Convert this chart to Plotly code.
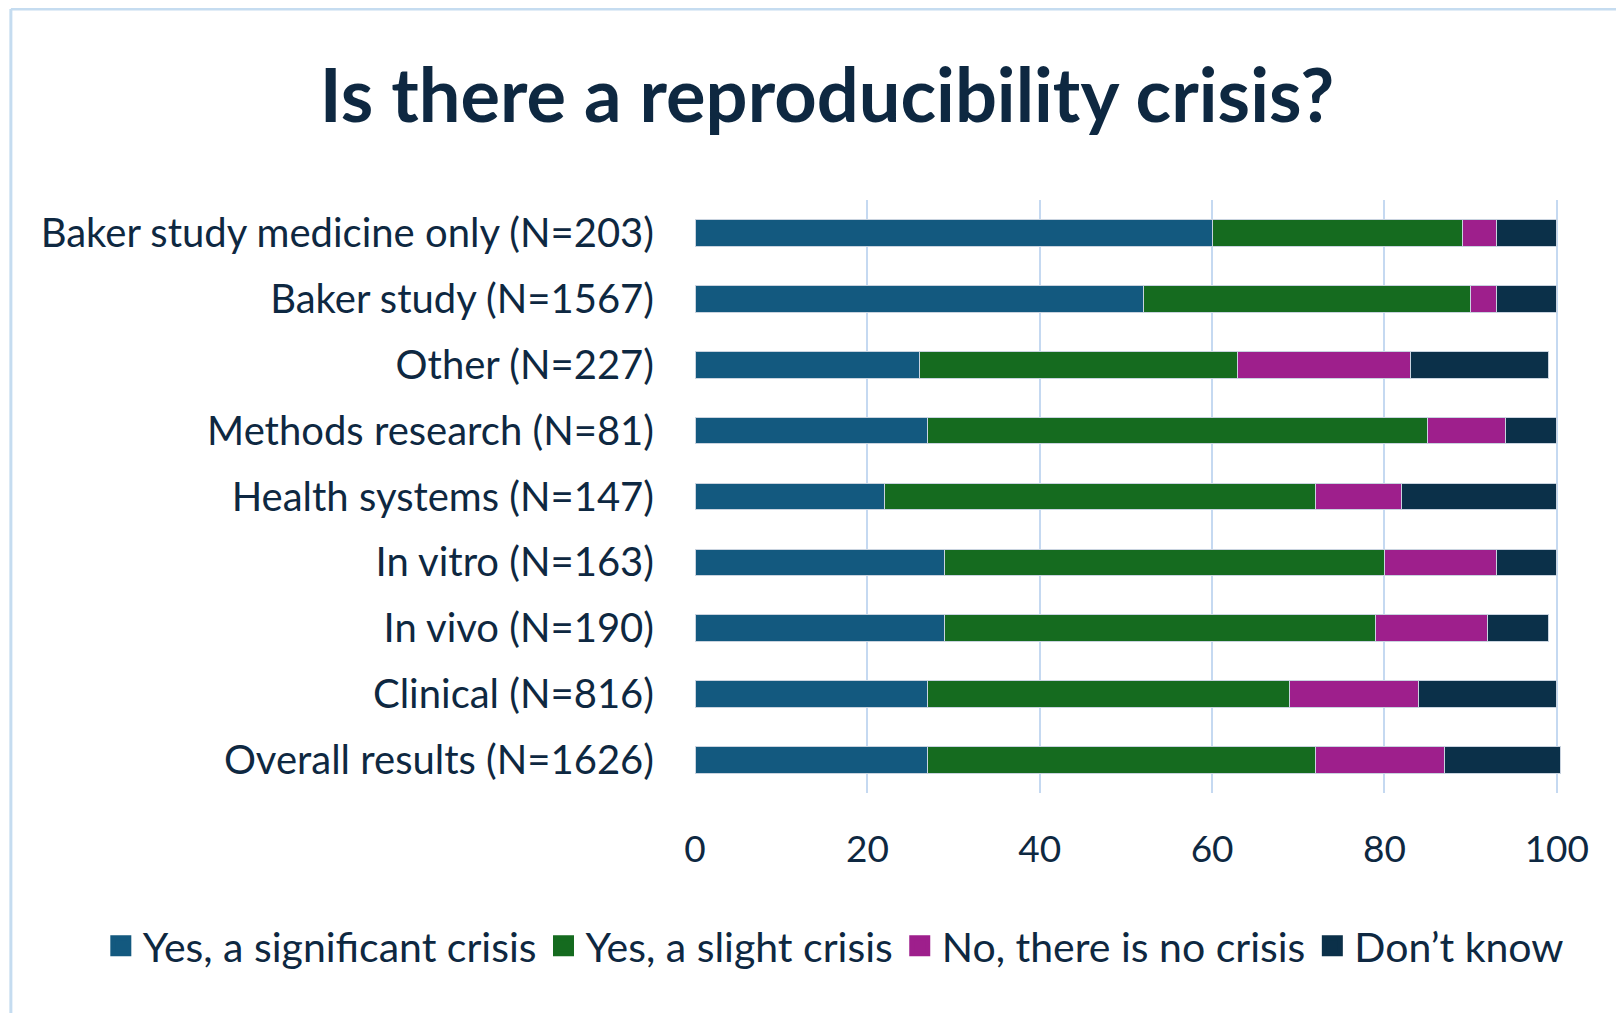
import plotly.graph_objects as go

categories = [
    "Baker study medicine only (N=203)",
    "Baker study (N=1567)",
    "Other (N=227)",
    "Methods research (N=81)",
    "Health systems (N=147)",
    "In vitro (N=163)",
    "In vivo (N=190)",
    "Clinical (N=816)",
    "Overall results (N=1626)",
]
significant = [60, 52, 26, 27, 22, 29, 29, 27, 27]
slight = [29, 38, 37, 58, 50, 51, 50, 42, 45]
no_crisis = [4, 3, 20, 9, 10, 13, 13, 15, 15]
dont_know = [7, 7, 16, 6, 18, 7, 7, 16, 13.4]

series_names = ["Yes, a significant crisis", "Yes, a slight crisis",
                "No, there is no crisis", "Don\u2019t know"]
series_values = [significant, slight, no_crisis, dont_know]
colors = ["#13597f", "#156b1f", "#9e1f8c", "#0b3049"]
x_ticks = [0, 20, 40, 60, 80, 100]

TEXT = "#0e2841"
FONT = "Lato"
W, H = 1624, 1013
OFF = 8  # page body margin
L, R, T, B = 694.6 - OFF, 61.8 + OFF, 200 - OFF, 220 + OFF
PW, PH = W - L - R, H - T - B

fig = go.Figure()
for name, vals, col in zip(series_names, series_values, colors):
    fig.add_trace(go.Bar(
        y=categories, x=vals, name=name, orientation="h",
        marker=dict(color=col, line=dict(color="#c9d3df", width=1)),
        showlegend=False,
    ))
for name, col in zip(series_names, colors):
    fig.add_trace(go.Scatter(
        x=[None], y=[None], mode="markers", name=name,
        marker=dict(symbol="square", size=16, color=col, line=dict(color=col, width=5)),
        showlegend=True,
    ))

def px_x(p):
    return (p - L) / PW

def px_y(p):
    return (H - B - p) / PH

border = "#c5dcf0"
fig.add_shape(type="line", xref="paper", yref="paper",
              x0=px_x(2), x1=px_x(W), y0=px_y(1), y1=px_y(1),
              line=dict(color=border, width=3))
fig.add_shape(type="line", xref="paper", yref="paper",
              x0=px_x(2), x1=px_x(2), y0=px_y(1), y1=px_y(H),
              line=dict(color=border, width=3))

fig.update_layout(
    width=W, height=H,
    margin=dict(l=L, r=R, t=T, b=B, pad=0),
    paper_bgcolor="white", plot_bgcolor="white",
    barmode="stack", bargap=0.595,
    font=dict(family=FONT, color=TEXT, size=40),
    title=dict(text="<b>Is there a reproducibility crisis?</b>",
               x=(827 - OFF) / W, xanchor="center", xref="container",
               y=1 - (96 - OFF) / H, yanchor="middle", yref="container",
               font=dict(family=FONT, size=74, color=TEXT)),
    xaxis=dict(range=[0, 100.6], tickvals=x_ticks, showgrid=True,
               gridcolor="#c5d9f1", gridwidth=2, zeroline=False,
               showline=False, ticks="", ticklabelstandoff=31,
               tickfont=dict(size=37, color=TEXT)),
    yaxis=dict(autorange="reversed", showgrid=False, showline=False,
               ticks="", ticklabelstandoff=40,
               tickfont=dict(size=40, color=TEXT)),
    legend=dict(orientation="h", x=px_x(98 - OFF), xanchor="left",
                y=px_y(946 - OFF), yanchor="middle", traceorder="normal",
                font=dict(size=41, color=TEXT), itemwidth=34,
                bgcolor="rgba(0,0,0,0)"),
)

fig.write_html("out.html")
